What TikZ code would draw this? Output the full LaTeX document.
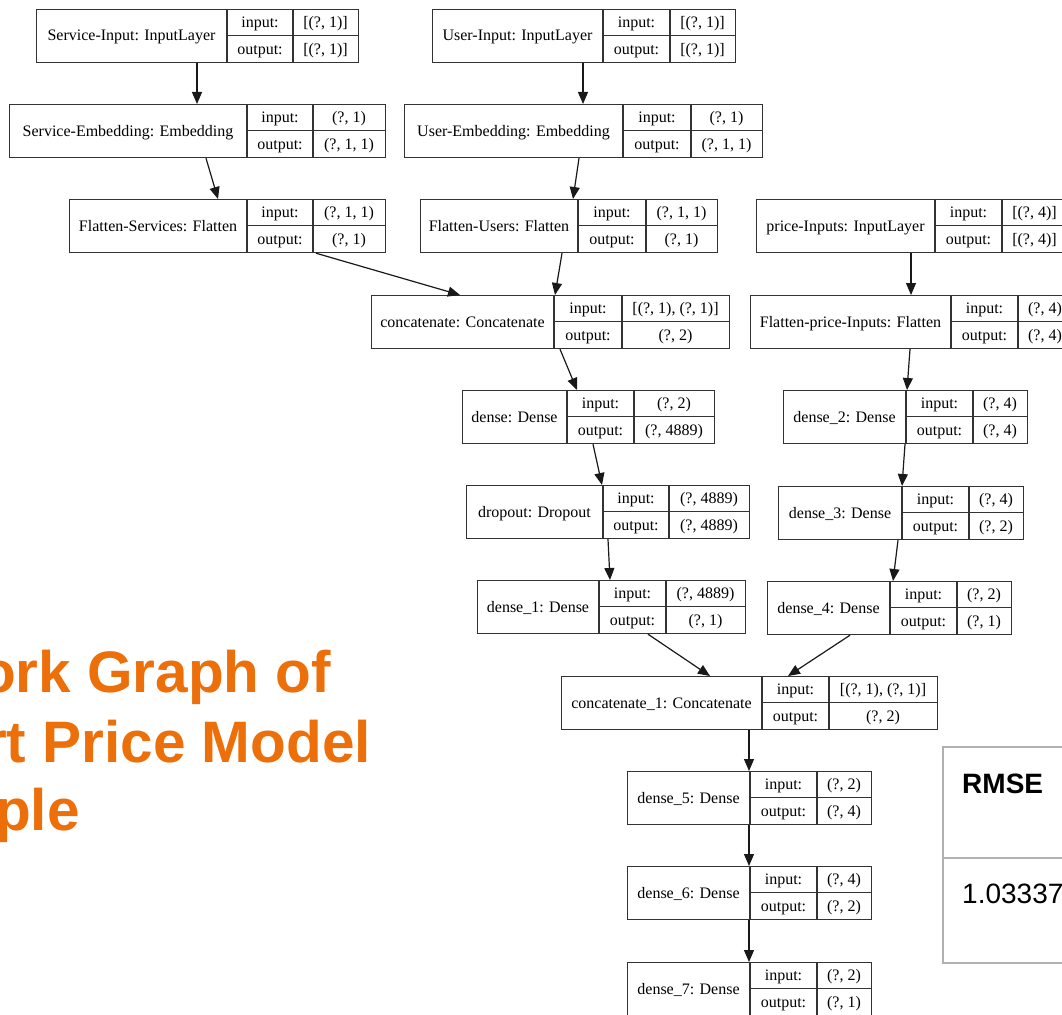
\documentclass[tikz,border=0pt]{standalone}
\usepackage{fontspec}
\usetikzlibrary{arrows.meta,calc}
\newfontfamily\graphfont{Liberation Serif}
\newfontfamily\slidefont{Liberation Sans}
\definecolor{slideorange}{RGB}{236,111,10}
\definecolor{tablegray}{RGB}{176,176,176}

\tikzset{
  lbox/.style={draw=black!80, line width=1.2pt, minimum height=53pt, inner sep=0pt, fill=white},
  rule/.style={draw=black!80, line width=1.2pt},
  txt/.style={anchor=base, inner sep=0pt, font=\graphfont\fontsize{16}{19}\selectfont},
  arr/.style={draw=black!90, line width=1.2pt, -{Triangle[length=12pt,width=10pt]}},
  title/.style={anchor=base west, inner sep=0pt, text=slideorange,
    font=\slidefont\bfseries\fontsize{58.5}{70}\selectfont},
  cell/.style={draw=tablegray, line width=2pt, anchor=north west, inner sep=0pt},
  tabtxt/.style={anchor=base west, inner sep=0pt, font=\slidefont\fontsize{28}{34}\selectfont},
}

% one Keras layer: name, left, divider 1, divider 2, right, top, label, input, output
\newcommand{\layer}[9]{%
  \node[lbox, minimum width={(#5-#2)*1pt}, anchor=north west] (#1) at (#2,#6) {};
  \draw[rule] (#3,#6) -- (#3,#6+53) (#4,#6) -- (#4,#6+53) (#3,#6+26.5) -- (#5,#6+26.5);
  \node[txt] (#1-l) at ({(#2+#3)/2},#6+32) {#7};
  \node[txt] (#1-ik) at ({(#3+#4)/2},#6+18.75) {input:};
  \node[txt] (#1-ok) at ({(#3+#4)/2},#6+45.25) {output:};
  \node[txt] (#1-iv) at ({(#4+#5)/2},#6+18.75) {#8};
  \node[txt] (#1-ov) at ({(#4+#5)/2},#6+45.25) {#9};
}
% connector: tail node, offset from its left side, head node, offset from its left side
\newcommand{\link}[4]{%
  \draw[arr] ($(#1.south west)+(#2,0)$) -- ($(#3.north west)+(#4,0)$);
}

\begin{document}
\begin{tikzpicture}[x=1pt, y=-1pt]
\useasboundingbox (0,0) rectangle (1062,1014);
\clip (0,0) rectangle (1062,1014);
\fill[white] (0,0) rectangle (1062,1014);

% slide title
\node[title] (t1) at (-20,692) {ork Graph of};
\node[title] (t2) at (-16,762) {rt Price Model};
\node[title] (t3) at (-5,830) {ple};

% result table
\node[cell, minimum width=180pt, minimum height=111pt] (th) at (942,746) {};
\node[cell, minimum width=180pt, minimum height=105pt] (tv) at (942,857) {};
\node[tabtxt, font=\slidefont\bfseries\fontsize{28}{34}\selectfont] (rmse) at (962,793) {RMSE};
\node[tabtxt] (rval) at (962,903) {1.03337};

% layers
\layer{si}{36}{227}{293}{358}{9}{Service-Input: InputLayer}{[(?, 1)]}{[(?, 1)]}
\layer{se}{9}{247}{313}{385}{104}{Service-Embedding: Embedding}{(?, 1)}{(?, 1, 1)}
\layer{fs}{69}{247}{313}{385}{199}{Flatten-Services: Flatten}{(?, 1, 1)}{(?, 1)}
\layer{ui}{432}{603}{670}{735}{9}{User-Input: InputLayer}{[(?, 1)]}{[(?, 1)]}
\layer{ue}{404}{623}{691}{762}{104}{User-Embedding: Embedding}{(?, 1)}{(?, 1, 1)}
\layer{fu}{420}{578}{646}{717}{199}{Flatten-Users: Flatten}{(?, 1, 1)}{(?, 1)}
\layer{pi}{756}{935}{1002}{1067}{199}{price-Inputs: InputLayer}{[(?, 4)]}{[(?, 4)]}
\layer{cc}{371}{554}{622}{729}{295}{concatenate: Concatenate}{[(?, 1), (?, 1)]}{(?, 2)}
\layer{fp}{750}{951}{1018}{1072}{295}{Flatten-price-Inputs: Flatten}{(?, 4)}{(?, 4)}
\layer{d}{462}{567}{634}{714}{390}{dense: Dense}{(?, 2)}{(?, 4889)}
\layer{dtwo}{783}{906}{973}{1027}{390}{dense\_2: Dense}{(?, 4)}{(?, 4)}
\layer{do}{466}{603}{669}{749}{485}{dropout: Dropout}{(?, 4889)}{(?, 4889)}
\layer{dthree}{778}{902}{969}{1023}{486}{dense\_3: Dense}{(?, 4)}{(?, 2)}
\layer{done}{477}{599}{666}{745}{580}{dense\_1: Dense}{(?, 4889)}{(?, 1)}
\layer{dfour}{767}{890}{957}{1011}{581}{dense\_4: Dense}{(?, 2)}{(?, 1)}
\layer{ccone}{561}{762}{829}{937}{676}{concatenate\_1: Concatenate}{[(?, 1), (?, 1)]}{(?, 2)}
\layer{dfive}{627}{750}{817}{871}{771}{dense\_5: Dense}{(?, 2)}{(?, 4)}
\layer{dsix}{627}{750}{817}{871}{866}{dense\_6: Dense}{(?, 4)}{(?, 2)}
\layer{dseven}{627}{750}{817}{871}{962}{dense\_7: Dense}{(?, 2)}{(?, 1)}

% data flow
\link{si}{161}{se}{188}
\link{se}{197}{fs}{149}
\link{ui}{151}{ue}{179}
\link{ue}{175}{fu}{153}
\link{fs}{247}{cc}{89}
\link{fu}{142}{cc}{184}
\link{cc}{189}{d}{115}
\link{d}{131}{do}{136}
\link{do}{142}{done}{133}
\link{pi}{155}{fp}{161}
\link{fp}{160}{dtwo}{124}
\link{dtwo}{122}{dthree}{124}
\link{dthree}{120}{dfour}{126}
\link{done}{171}{ccone}{149}
\link{dfour}{83}{ccone}{227}
\link{ccone}{188}{dfive}{122}
\link{dfive}{122}{dsix}{122}
\link{dsix}{122}{dseven}{122}
\end{tikzpicture}
\end{document}
